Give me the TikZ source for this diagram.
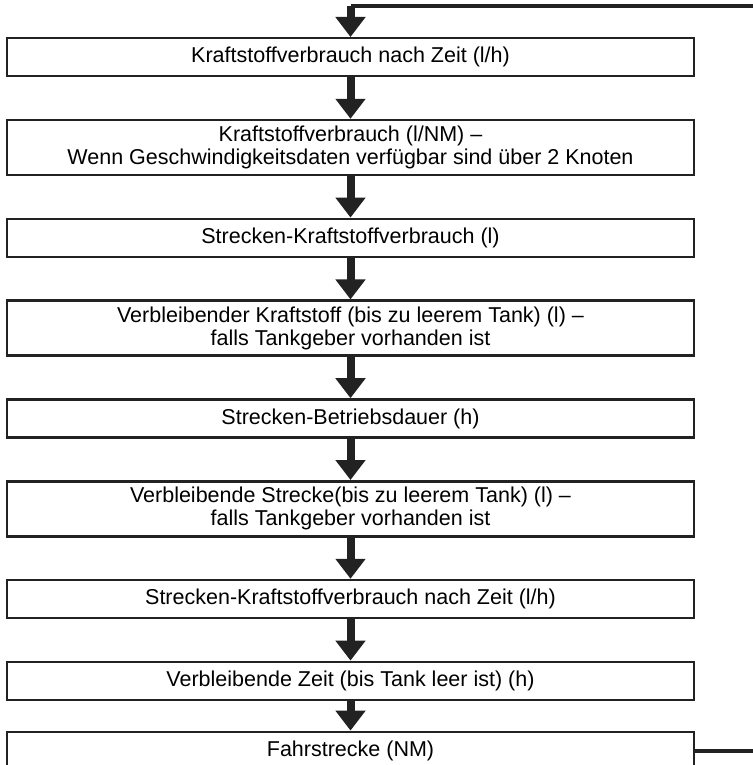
\documentclass[tikz,border=0pt]{standalone}
\usepackage{fontspec}
\setmainfont{Liberation Sans}
\definecolor{FrameGray}{RGB}{34,34,34}
\usetikzlibrary{arrows.meta, positioning}

\begin{document}
\begin{tikzpicture}[x=1pt,y=1pt,
        node distance=41.3pt,
        metric/.style={rectangle,draw=FrameGray,line width=2.5pt,fill=white,
                       minimum width=687pt,minimum height=38pt,inner sep=0pt,
                       font=\fontsize{21.5}{23}\selectfont,align=center},
        tall/.style={minimum height=55pt},
        arr/.style={-{Triangle[width=29pt,length=20pt]},line width=8pt,draw=FrameGray},
        link/.style={line width=3.5pt,draw=FrameGray}
      ]
        \useasboundingbox (0,0) rectangle (752,-765);
        \node[metric,anchor=north] (zeit) at (350.5,-37) {Kraftstoffverbrauch nach Zeit (l/h)};
        \node[metric,tall,below=of zeit] (nm) {Kraftstoffverbrauch (l/NM) --\\Wenn Geschwindigkeitsdaten verfügbar sind über 2 Knoten};
        \node[metric,below=of nm] (strecke) {Strecken-Kraftstoffverbrauch (l)};
        \node[metric,tall,below=of strecke] (rest) {Verbleibender Kraftstoff (bis zu leerem Tank) (l) --\\falls Tankgeber vorhanden ist};
        \node[metric,below=of rest] (dauer) {Strecken-Betriebsdauer (h)};
        \node[metric,tall,below=of dauer] (reststrecke) {Verbleibende Strecke(bis zu leerem Tank) (l) --\\falls Tankgeber vorhanden ist};
        \node[metric,below=of reststrecke] (streckezeit) {Strecken-Kraftstoffverbrauch nach Zeit (l/h)};
        \node[metric,below=of streckezeit] (restzeit) {Verbleibende Zeit (bis Tank leer ist) (h)};
        \node[metric,below=29.5pt of restzeit] (fahrt) {Fahrstrecke (NM)};

        \coordinate (topL) at (350.5,-6); \coordinate (topR) at (760,-6);
        \coordinate (edgeR) at (760,0);

        \draw[link](topR)--(topL); \draw[arr](topL)--(zeit);
        \draw[arr](zeit)--(nm); \draw[arr](nm)--(strecke); \draw[arr](strecke)--(rest);
        \draw[arr](rest)--(dauer); \draw[arr](dauer)--(reststrecke);
        \draw[arr](reststrecke)--(streckezeit); \draw[arr](streckezeit)--(restzeit);
        \draw[arr](restzeit)--(fahrt);
        \draw[link](fahrt.east)--(fahrt.east -| edgeR);
      \end{tikzpicture}
\end{document}
